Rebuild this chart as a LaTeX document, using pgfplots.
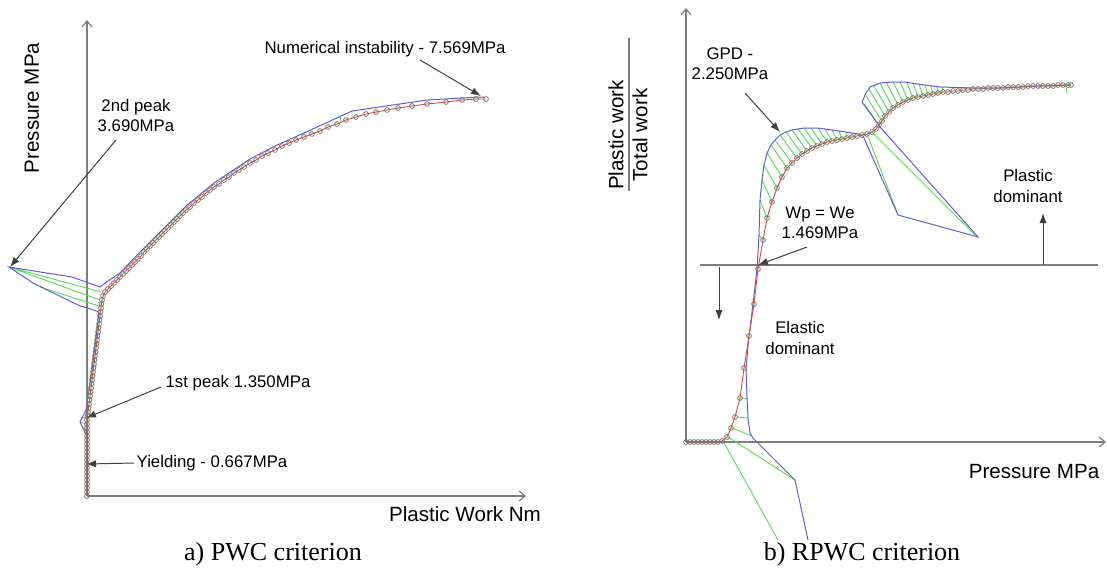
\documentclass[border=0pt]{standalone}
\usepackage{pgfplots}
\pgfplotsset{compat=1.18}
\usepackage{fontspec}
\setmainfont{Liberation Serif}
\setsansfont{Liberation Sans}
\usetikzlibrary{arrows.meta}
\definecolor{cred}{RGB}{220,70,70}
\definecolor{cblue}{RGB}{95,95,210}
\definecolor{cgreen}{RGB}{90,215,90}
\definecolor{cmark}{RGB}{120,122,105}
\definecolor{caxis}{RGB}{125,125,125}
\newcommand{\labf}{\sffamily\fontsize{10.3}{12}\selectfont}
\newcommand{\annf}{\sffamily\fontsize{8.4}{9.6}\selectfont}
\newcommand{\capf}{\rmfamily\fontsize{13}{15}\selectfont}
\pgfplotsset{
  panel/.style={scale only axis, axis lines=none, ticks=none, clip=false,
    y dir=reverse, ymin=0, ymax=569, height=284.5pt, anchor=south west,
    unbounded coords=jump},
  redc/.style={cred, line width=0.45pt, mark=o, mark size=1.2pt,
    mark options={draw=cmark, line width=0.4pt, fill=none}},
  bluec/.style={cblue, line width=0.5pt, no marks},
  greenc/.style={cgreen, line width=0.45pt, no marks},
}
\tikzset{annarrow/.style={draw=black!75, line width=0.5pt, -{Latex[length=5pt,width=3.6pt]}},
  axarrow/.style={draw=caxis, line width=0.6pt, -{Straight Barb[length=3pt,width=5pt]}}}
\begin{document}
\begin{tikzpicture}
\useasboundingbox (0,0) rectangle (553.5pt,284.5pt);
% ---------------- left panel ----------------
\begin{axis}[panel, at={(0,0)}, width=280pt, xmin=0, xmax=560]
\draw[axarrow] (axis cs:87,496) -- (axis cs:87,20);
\draw[axarrow] (axis cs:87,496) -- (axis cs:526,496);
% green
\addplot[greenc] coordinates {
(9,267) (101,292) (nan,nan)
(9,267) (100,300) (nan,nan)
(40,287) (99,306) (nan,nan)
(80,422) (87,424) (nan,nan)
(82,428) (87,430) (nan,nan)
(81,417) (87,418) (nan,nan)
(352,111) (352,118) (nan,nan)
(340,115) (341,121) (nan,nan)
};
% blue
\addplot[bluec] coordinates {
(87,496) (87,436) (80,422) (86,410) (92,370) (97,330) (99,312) (88,308) (80,306) (33,283) (9,267)
(72,277) (100,287) (108,281) (120,273) (140,252) (160,232) (186,206) (214,183) (250,159)
(275,146) (304,133) (328,122) (352,111) (427,100) (479,97) (484,97)
};
% red with circles
\addplot[redc] coordinates {
(87,496) (87,492) (87,488) (87,484) (87,480) (87,476) (87,472) (87,468) (87,464) (87,460)
(87,456) (87,452) (87,448) (87,444) (87,440) (87,436) (87,432) (87,428) (87,424) (87,420)
(87.5,416) (88,412) (88.5,408) (89,404) (89.5,400) (90,396) (90.5,392) (91,388) (91.5,384) (92,380)
(92.5,376) (93,372) (93.5,368) (94,364) (94.5,360) (95,356) (95.5,352) (96,348) (96.5,344) (97,340)
(97.5,336) (98,332) (98.5,328) (99,324) (99.5,320) (100,316) (100.5,312) (101,308) (101.5,304) (102,300)
(103,296) (105,292) (108,289) (111,286) (114,283) (117,280) (120,277) (123,274) (126,271) (129,268)
(132,265) (135,262) (138,259) (141,256) (144,252) (147,249) (150,246) (153,243) (156,240) (159,237)
(162,234) (165,231) (168,228) (171,225) (174,222) (177,219) (180,216) (183,213) (186,210) (190,207)
(194,203) (198,200) (202,197) (206,193) (210,190) (214,187) (219,184) (224,180) (229,177) (234,173)
(239,170) (244,167) (250,163) (256,160) (262,156) (268,153) (275,150) (282,146) (289,143) (296,140)
(304,137) (312,134) (320,131) (328,127) (337,124) (346,120) (356,117) (366,114) (376,112) (387,110)
(398,108) (412,106) (427,104) (446,102) (462,100) (476,99) (486,99)
};
\node[rotate=90, font=\labf] at (axis cs:32,108) {Pressure MPa};
\node[font=\labf] at (axis cs:465,514) {Plastic Work Nm};
\node[font=\annf] at (axis cs:385,49) {Numerical instability - 7.569MPa};
\draw[annarrow] (axis cs:420,60) -- (axis cs:481,96);
\node[font=\annf, align=center] at (axis cs:136,115.5) {2nd peak\\[0.5pt]3.690MPa};
\draw[annarrow] (axis cs:116,140) -- (axis cs:10,267);
\node[font=\annf] at (axis cs:238,383) {1st peak 1.350MPa};
\draw[annarrow] (axis cs:161,387) -- (axis cs:86,418);
\node[font=\annf] at (axis cs:212,463) {Yielding - 0.667MPa};
\draw[annarrow] (axis cs:134,463) -- (axis cs:86,464);
\node[font=\capf] at (axis cs:273,554) {a) PWC criterion};
\end{axis}
% ---------------- right panel ----------------
\begin{axis}[panel, at={(280pt,0)}, width=273.5pt, xmin=560, xmax=1107]
\draw[axarrow] (axis cs:686,442) -- (axis cs:686,8);
\draw[axarrow] (axis cs:686,442) -- (axis cs:1106,442);
\draw[draw=caxis, line width=1pt] (axis cs:700,265) -- (axis cs:1098,265);
\draw[draw=caxis, line width=0.6pt] (axis cs:629,38) -- (axis cs:629,191);
% green hatching
\addplot[greenc] coordinates {
(763,240) (759,235) (nan,nan) (767,218) (760,200) (nan,nan) (772,202) (762,180) (nan,nan)
(777,188) (764,165) (nan,nan) (782,177) (767,153) (nan,nan) (787,168) (771,145) (nan,nan)
(792,163) (775,140) (nan,nan) (797,158) (780,135) (nan,nan) (802,154) (786,132) (nan,nan)
(807,151) (792,130) (nan,nan) (812,148) (798,129) (nan,nan) (817,146) (804,128) (nan,nan)
(822,144) (811,128) (nan,nan) (827,142) (818,128) (nan,nan) (832,141) (825,129) (nan,nan)
(837,140) (832,130) (nan,nan) (842,139) (839,131) (nan,nan) (847,138) (846,132) (nan,nan)
(852,137) (852,133) (nan,nan)
(867,134) (897,212) (nan,nan) (872,132) (975,235) (nan,nan)
(879,125) (864,104) (nan,nan) (882,121) (866,96) (nan,nan) (885,116) (869,89) (nan,nan)
(889,112) (874,86) (nan,nan) (893,108) (880,83) (nan,nan) (898,105) (886,82) (nan,nan)
(903,102) (893,82) (nan,nan) (908,100) (900,82) (nan,nan) (913,98) (907,83) (nan,nan)
(918,97) (913,83) (nan,nan) (923,96) (919,84) (nan,nan) (928,95) (925,85) (nan,nan)
(933,94) (931,86) (nan,nan) (938,93) (937,86) (nan,nan) (943,92) (942,87) (nan,nan)
(741,398) (748,399) (nan,nan) (737,417) (748,418) (nan,nan) (732,428) (752,436) (nan,nan)
(728,437) (795,480) (nan,nan) (723,441) (778,540) (nan,nan)
(1066,86) (1067,93) (nan,nan)
};
% blue predicted curve
\addplot[bluec] coordinates {
(808,540) (795,480) (753,438) (750,433) (748,418) (747,398) (746,368) (749,336) (753,304) (757,269)
(759,235) (760,200) (762,180) (764,165) (767,153) (771,145) (775,140) (780,135) (786,132) (792,130)
(798,129) (804,128) (811,128) (818,128) (825,129) (832,130) (839,131) (846,132) (852,133) (858,134)
(863,136) (898,215) (978,237) (880,127) (862,102) (866,93) (870,87) (880,83) (893,82) (905,82)
(917,84) (940,87) (973,88) (1000,88) (1040,86) (1070,85)
};
% red with circles
\addplot[redc] coordinates {
(686,442) (690,442) (694,442) (698,442) (702,442) (706,442) (710,442) (714,442) (718,442) (722,441)
(727,437) (731,428) (735,417) (740,398) (744,368) (749,336) (754,304) (758,269) (763,240) (767,218)
(772,202) (777,188) (782,177) (787,168) (792,163) (797,158) (802,154) (807,151) (812,148) (817,146)
(822,144) (827,142) (832,141) (837,140) (842,139) (847,138) (852,137) (857,136) (862,135) (867,134)
(872,132) (876,129) (879,125) (882,121) (885,116) (889,112) (893,108) (898,105) (903,102) (908,100)
(913,98) (918,97) (923,96) (928,95) (933,94) (938,93) (943,92) (948,92) (953,91) (958,91)
(963,90) (968,90) (973,89) (978,89) (983,89) (988,88) (993,88) (998,88) (1003,88) (1008,87)
(1013,87) (1018,87) (1023,87) (1028,86) (1033,86) (1038,86) (1043,86) (1048,86) (1053,86) (1058,85)
(1063,85) (1068,85) (1071,85)
};
\node[rotate=90, font=\labf] at (axis cs:616,135) {Plastic work};
\node[rotate=90, font=\labf] at (axis cs:640,135) {Total work};
\node[font=\labf] at (axis cs:1034,472) {Pressure MPa};
\node[font=\annf, align=center] at (axis cs:1028,186) {Plastic\\[0.5pt]dominant};
\draw[annarrow] (axis cs:1043,265) -- (axis cs:1043,213);
\node[font=\annf, align=center] at (axis cs:800,338) {Elastic\\[0.5pt]dominant};
\draw[annarrow] (axis cs:719,267) -- (axis cs:719,320);
\node[font=\annf, align=center] at (axis cs:820,223) {Wp = We\\[0.5pt]1.469MPa};
\draw[annarrow] (axis cs:807,247) -- (axis cs:758,265);
\node[font=\annf, align=center] at (axis cs:730,64) {GPD -\\[0.5pt]2.250MPa};
\draw[annarrow] (axis cs:745,93) -- (axis cs:780,132);
\node[font=\capf] at (axis cs:862,554) {b) RPWC criterion};
\end{axis}
\end{tikzpicture}
\end{document}
